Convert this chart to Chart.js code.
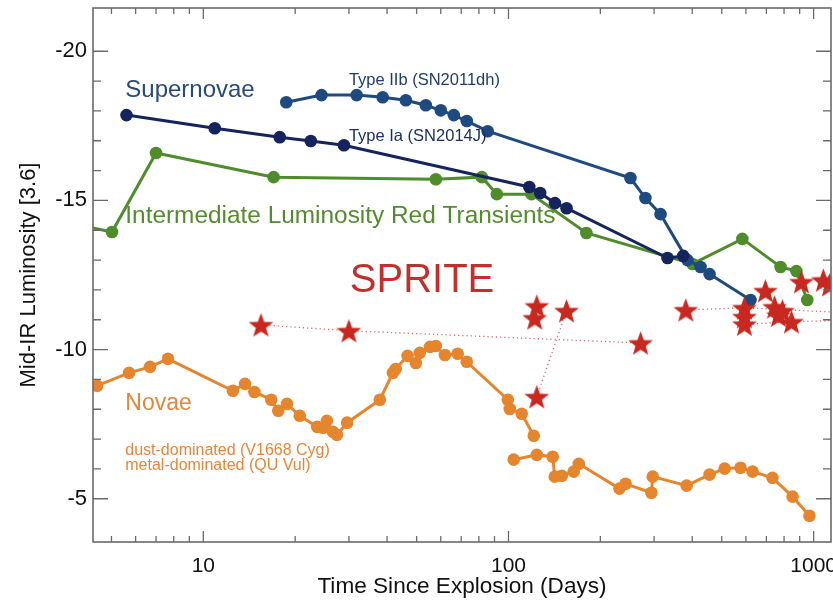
<!DOCTYPE html>
<html>
<head>
<meta charset="utf-8">
<script src="https://cdn.jsdelivr.net/npm/chart.js@4.4.0/dist/chart.umd.min.js"></script>
<style>
  html, body { margin: 0; padding: 0; background: #fff; }
</style>
</head>
<body>
<canvas id="sprite-chart" width="833" height="600"></canvas>
<script>
// Type Ia (SN2014J)
var iaDays = [5.6, 10.9, 17.8, 22.5, 28.9, 117, 127, 142, 155, 332, 374];
var iaMag  = [-17.86, -17.42, -17.12, -16.99, -16.85, -15.45, -15.25, -14.91, -14.74, -13.07, -13.14];

// Type IIb (SN2011dh)
var iibDays = [18.7, 24.4, 31.8, 38.7, 46.1, 53.6, 60.0, 66.2, 73.0, 85.5, 251, 281, 315, 386, 426, 456, 621];
var iibMag  = [-18.29, -18.53, -18.53, -18.46, -18.36, -18.19, -18.02, -17.86, -17.66, -17.32, -15.75, -15.08, -14.54, -13.0, -12.77, -12.53, -11.66];

// Intermediate Luminosity Red Transients
var ilrtDays = [4.0, 5.02, 7.0, 17.0, 57.8, 81.8, 91.6, 119, 180, 401, 584, 779, 878, 953];
var ilrtMag  = [-14.15, -13.94, -16.59, -15.78, -15.71, -15.78, -15.21, -15.21, -13.91, -12.87, -13.71, -12.77, -12.63, -11.66];

// Novae: dust-dominated (V1668 Cyg)
var dustDays = [4.49, 5.71, 6.69, 7.66, 12.5, 13.7, 14.7, 16.7, 17.6, 18.8, 20.7, 23.6, 24.7, 25.4, 26.6, 27.4, 29.6,
                37.9, 41.8, 42.7, 46.7, 49.7, 51.2, 55.3, 57.8, 61.9, 68.2, 73.0, 99.5, 101, 110.5, 121];
var dustMag  = [-8.79, -9.22, -9.42, -9.69, -8.62, -8.85, -8.58, -8.32, -7.95, -8.18, -7.78, -7.41, -7.38, -7.61, -7.24, -7.14, -7.55,
                -8.32, -9.22, -9.35, -9.79, -9.55, -9.89, -10.09, -10.12, -9.82, -9.86, -9.59, -8.32, -8.01, -7.85, -7.11];

// Novae: metal-dominated (QU Vul)
var metalDays = [104, 123.8, 139.6, 141.8, 149.5, 163.6, 170, 231, 242, 294, 297, 383.6, 456, 511, 576, 631, 733, 853, 969];
var metalMag  = [-6.31, -6.47, -6.41, -5.74, -5.77, -5.91, -6.17, -5.34, -5.5, -5.2, -5.74, -5.44, -5.81, -6.01, -6.04, -5.91, -5.7, -5.07, -4.43];

// SPRITEs
var spriteDays = [15.45, 30.0, 121.9, 123.8, 155, 271, 123.8, 381, 593, 593, 593, 695, 745, 767, 790, 846, 912, 1076, 1127];
var spriteMag  = [-10.83, -10.63, -11.06, -11.46, -11.30, -10.22, -8.42, -11.33, -11.40, -11.10, -10.85, -11.97, -11.43, -11.15, -11.30, -10.93, -12.27, -12.33, -12.17];

// dotted tracks joining SPRITE epochs
var trackADays = [15.45, 30.0, 271],  trackAMag = [-10.83, -10.63, -10.22];
var trackBDays = [123.8, 155],        trackBMag = [-8.42, -11.30];
var trackCDays = [381, 593, 1400],    trackCMag = [-11.33, -11.40, -11.22];
var trackDDays = [593, 846, 1400],    trackDMag = [-10.85, -10.93, -11.0];

var FONT = "'Liberation Sans', Arial, Helvetica, sans-serif";
var AREA = {left: 93, top: 8, right: 831, bottom: 542};

function pts(xs, ys) {
  return xs.map(function (x, i) { return {x: x, y: ys[i]}; });
}

function starImage(size, color) {
  var c = document.createElement('canvas');
  c.width = size; c.height = size;
  var g = c.getContext('2d');
  var cx = size / 2, cy = size / 2 + size * 0.05, R = size / 2 - 0.5, r = R * 0.42;
  g.beginPath();
  for (var i = 0; i < 10; i++) {
    var a = -Math.PI / 2 + i * Math.PI / 5;
    var rad = (i % 2) ? r : R;
    g.lineTo(cx + rad * Math.cos(a), cy + rad * Math.sin(a));
  }
  g.closePath();
  g.fillStyle = color;
  g.fill();
  return c;
}

function lineSet(label, xs, ys, color) {
  return {
    label: label,
    data: pts(xs, ys),
    borderColor: color,
    backgroundColor: color,
    borderWidth: 3,
    pointRadius: 6.3,
    pointBorderWidth: 0,
    pointBackgroundColor: color,
    tension: 0
  };
}

function dotSet(xs, ys) {
  return {
    label: 'track',
    data: pts(xs, ys),
    borderColor: 'rgba(200,80,80,0.85)',
    borderWidth: 1.3,
    borderDash: [1.2, 3],
    pointRadius: 0,
    tension: 0
  };
}

// in-figure labels, placed in data coordinates
var notes = [
  {text: 'Supernovae', x: 5.55, y: -18.46, color: '#284a7a', size: 24},
  {text: 'Type IIb (SN2011dh)', x: 30.0, y: -18.88, color: '#203c6a', size: 16.5},
  {text: 'Type Ia (SN2014J)', x: 30.0, y: -16.99, color: '#1c2f60', size: 16.5},
  {text: 'Intermediate Luminosity Red Transients', x: 5.55, y: -14.24, color: '#558b2f', size: 24.4},
  {text: 'SPRITE', x: 30.2, y: -11.93, color: '#c1302b', size: 40},
  {text: 'Novae', x: 5.55, y: -7.98, color: '#e4873a', size: 23},
  {text: 'dust-dominated (V1668 Cyg)', x: 5.55, y: -6.47, color: '#e4873a', size: 16},
  {text: 'metal-dominated (QU Vul)', x: 5.55, y: -5.97, color: '#e4873a', size: 16}
];

var framePlugin = {
  id: 'frameTicks',
  afterDatasetsDraw: function (chart) {
    var ctx = chart.ctx, a = chart.chartArea, xs = chart.scales.x, ys = chart.scales.y;
    ctx.save();
    ctx.strokeStyle = '#6a6a6a';
    ctx.lineWidth = 1.6;
    ctx.strokeRect(a.left, a.top, a.right - a.left, a.bottom - a.top);
    ctx.lineWidth = 1.3;
    ctx.beginPath();
    xs.ticks.forEach(function (t) {
      var e = Math.floor(Math.log10(t.value) + 1e-9);
      var m = t.value / Math.pow(10, e);
      if (Math.abs(m - Math.round(m)) > 1e-6) return;
      var px = xs.getPixelForValue(t.value);
      if (px < a.left + 1 || px > a.right - 1) return;
      var len = Math.round(m) === 1 ? 11 : 6;
      ctx.moveTo(px, a.bottom); ctx.lineTo(px, a.bottom - len);
      ctx.moveTo(px, a.top); ctx.lineTo(px, a.top + len);
    });
    ys.ticks.forEach(function (t) {
      if (Math.abs(t.value - Math.round(t.value)) > 1e-6) return;
      var py = ys.getPixelForValue(t.value);
      var len = (Math.round(t.value) % 5 === 0) ? 15 : 8;
      ctx.moveTo(a.left, py); ctx.lineTo(a.left + len, py);
      ctx.moveTo(a.right, py); ctx.lineTo(a.right - len, py);
    });
    ctx.stroke();
    ctx.textAlign = 'left';
    ctx.textBaseline = 'alphabetic';
    notes.forEach(function (n) {
      ctx.fillStyle = n.color;
      ctx.font = n.size + 'px ' + FONT;
      ctx.fillText(n.text, xs.getPixelForValue(n.x), ys.getPixelForValue(n.y));
    });
    ctx.restore();
  }
};

var starImg = starImage(27, '#c8281f');

var ctx = document.getElementById('sprite-chart');
var spriteChart = new Chart(ctx, {
  type: 'line',
  data: {
    datasets: [
      {
        label: 'SPRITE',
        data: pts(spriteDays, spriteMag),
        showLine: false,
        pointStyle: starImg,
        pointRadius: 13,
        borderColor: '#c8281f',
        backgroundColor: '#c8281f'
      },
      lineSet('Type Ia (SN2014J)', iaDays, iaMag, '#15245c'),
      lineSet('Type IIb (SN2011dh)', iibDays, iibMag, '#1f4a80'),
      lineSet('ILRT', ilrtDays, ilrtMag, '#4f8c2b'),
      lineSet('dust-dominated (V1668 Cyg)', dustDays, dustMag, '#e5852e'),
      lineSet('metal-dominated (QU Vul)', metalDays, metalMag, '#e5852e'),
      dotSet(trackADays, trackAMag),
      dotSet(trackBDays, trackBMag),
      dotSet(trackCDays, trackCMag),
      dotSet(trackDDays, trackDMag)
    ]
  },
  options: {
    responsive: false,
    animation: false,
    layout: {autoPadding: false, padding: {top: 8, right: 2, left: 16, bottom: 0}},
    plugins: {legend: {display: false}, tooltip: {enabled: false}},
    scales: {
      x: {
        type: 'logarithmic',
        min: 4.35,
        max: 1140,
        grid: {display: false, drawTicks: false},
        border: {display: false},
        ticks: {
          autoSkip: false,
          maxRotation: 0,
          padding: 12,
          color: '#111',
          font: {family: FONT, size: 21},
          callback: function (v) {
            var l = Math.log10(v);
            return Math.abs(l - Math.round(l)) < 1e-6 ? String(Math.round(v)) : '';
          }
        },
        title: {display: true, text: 'Time Since Explosion (Days)', color: '#111', font: {family: FONT, size: 22.6}, padding: 0},
        afterFit: function (s) { s.height = 58; s.paddingLeft = 0; s.paddingRight = 0; }
      },
      y: {
        type: 'linear',
        reverse: true,
        min: -21.45,
        max: -3.55,
        grid: {display: false, drawTicks: false},
        border: {display: false},
        ticks: {
          stepSize: 1,
          autoSkip: false,
          padding: 6,
          color: '#111',
          font: {family: FONT, size: 22},
          callback: function (v) { return (Math.abs(v % 5) < 1e-6) ? String(v) : ''; }
        },
        title: {display: true, text: 'Mid-IR Luminosity [3.6]', color: '#111', font: {family: FONT, size: 22}, padding: 0},
        afterFit: function (s) { s.width = 77; s.paddingTop = 0; s.paddingBottom = 0; }
      }
    }
  },
  plugins: [framePlugin]
});

// nudge the layout padding so the plot frame lands where it does in the figure
var ca = spriteChart.chartArea, pad = spriteChart.options.layout.padding;
if (ca.right !== AREA.right || ca.top !== AREA.top) {
  pad.right += ca.right - AREA.right;
  pad.top += AREA.top - ca.top;
  spriteChart.update();
}
</script>
</body>
</html>
